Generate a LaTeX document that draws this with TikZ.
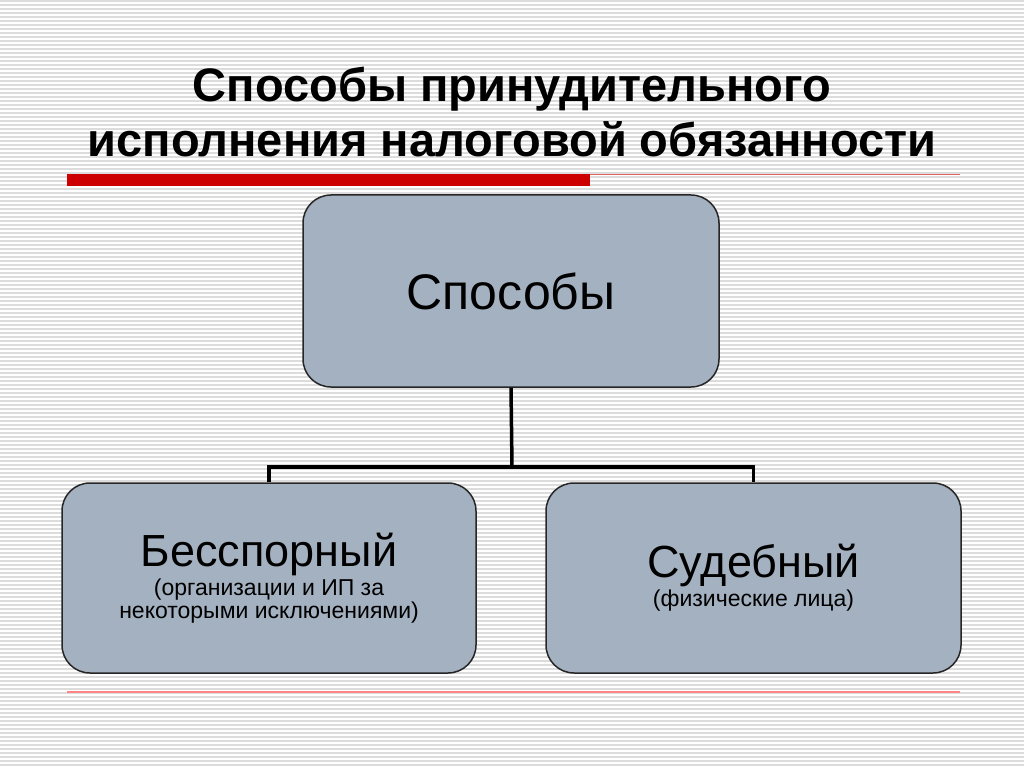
\documentclass[tikz,border=0pt]{standalone}
\usepackage{fontspec}
\setmainfont{Liberation Sans}
\begin{document}
\begin{tikzpicture}[x=1pt,y=-1pt,
  box/.style={draw=black!85,line width=1.5pt,fill=boxc,rounded corners=28pt,inner sep=0pt},
  conn/.style={line width=3.5pt,black}]
\definecolor{boxc}{HTML}{A4B1C0}
\definecolor{stripe}{HTML}{DCDCDC}
\definecolor{redbar}{HTML}{CC0000}
\useasboundingbox (0,0) rectangle (1024,767);
\fill[white] (0,0) rectangle (1024,767);
\foreach \y in {1,5,...,767} \draw[stripe,line width=1.4pt] (0,\y) -- (1024,\y);
\node[font=\bfseries\fontsize{47}{55}\selectfont,align=center] (title) at (512,112) {Способы принудительного\\исполнения налоговой обязанности};
\fill[redbar] (67,174) rectangle (590,186);
\draw[redbar!60,line width=1.2pt] (590,174.5) -- (960,174.5);
\draw[red!30!pink,line width=1.8pt] (67,692) -- (960,692);
\node[box,minimum width=416pt,minimum height=192pt,font=\fontsize{50}{56}\selectfont] (top) at (511,291) {Способы};
\node[box,minimum width=414pt,minimum height=190pt,align=center] (left) at (269,578)
  {{\fontsize{45}{50}\selectfont Бесспорный}\\[2pt]{\fontsize{23}{30}\selectfont (организации и ИП за}\\{\fontsize{23}{30}\selectfont некоторыми исключениями)}};
\node[box,minimum width=415pt,minimum height=190pt,align=center] (right) at (753.5,578)
  {{\fontsize{45}{50}\selectfont Судебный}\\[2pt]{\fontsize{23}{30}\selectfont (физические лица)}};
\coordinate (mid) at (512,467);
\draw[conn] (top.south) -- (mid);
\draw[conn] (left.north) -- (left.north |- mid) -- (right.north |- mid) -- (right.north);
\end{tikzpicture}
\end{document}
